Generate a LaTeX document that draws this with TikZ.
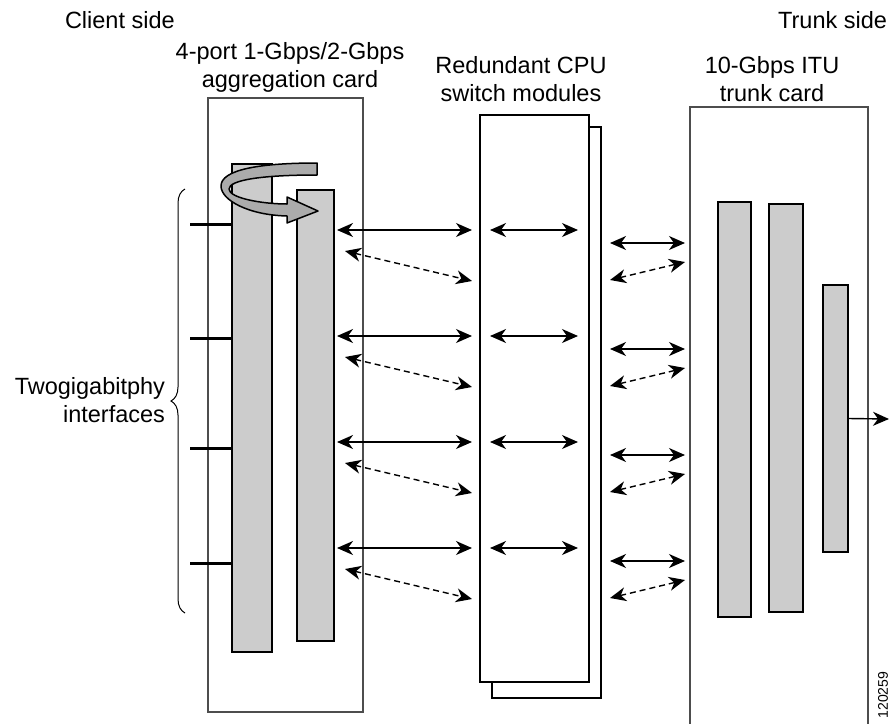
\documentclass[tikz,border=0pt]{standalone}
\usepackage{fontspec}
\setmainfont{Liberation Sans}
\usetikzlibrary{arrows.meta,decorations.pathreplacing}
\definecolor{cardline}{HTML}{4D4D4D}
\definecolor{barfill}{HTML}{CCCCCC}
\definecolor{turnfill}{HTML}{ABABAB}

\begin{document}
\begin{tikzpicture}[
    x=1pt, y=-1pt,
    every node/.style={inner sep=0pt, outer sep=0pt},
    lbl/.style={font=\fontsize{23.5}{28}\selectfont, align=center, anchor=north},
    card/.style={draw=cardline, line width=1.6pt, fill=white, anchor=north west},
    cpu/.style={draw=black, line width=1.5pt, fill=white, anchor=north west},
    bar/.style={draw=black, line width=2.6pt, fill=barfill, anchor=north west},
    port/.style={line width=3pt},
    turn/.style={draw=black, line width=1.5pt, fill=turnfill, line join=round},
    tip/.style={-{Stealth[length=16pt,width=14pt,inset=5pt]}, line width=1.4pt},
    link/.style={{Stealth[length=16pt,width=14pt,inset=5pt]}-{Stealth[length=16pt,width=14pt,inset=5pt]}, line width=1.4pt},
    dlink/.style={link, dash pattern=on 6pt off 4pt}
  ]
  \useasboundingbox (0,0) rectangle (891,723);

  % headings
  \node[lbl, anchor=north west] (client) at (65,11) {Client side};
  \node[lbl, anchor=north east] (trunkside) at (887,11) {Trunk side};
  \node[lbl] (agghead) at (290,42) {4-port 1-Gbps/2-Gbps\\aggregation card};
  \node[lbl] (cpuhead) at (521,56) {Redundant CPU\\switch modules};
  \node[lbl] (ituhead) at (772,56) {10-Gbps ITU\\trunk card};

  % cards
  \node[card, minimum width=155pt, minimum height=614pt] (agg) at (208,98) {};
  \node[cpu, minimum width=109pt, minimum height=571pt] (cpub) at (492,127) {};
  \node[cpu, minimum width=109pt, minimum height=567pt] (cpuf) at (480,115) {};
  \node[card, minimum width=178pt, minimum height=630pt] (itu) at (690,107) {};

  % bars
  \node[bar, minimum width=40pt, minimum height=488pt] (agga) at (232,164) {};
  \node[bar, minimum width=37pt, minimum height=451pt] (aggb) at (297,190) {};
  \node[bar, minimum width=33pt, minimum height=415pt] (itua) at (718,202) {};
  \node[bar, minimum width=34pt, minimum height=408pt] (itub) at (769,204) {};
  \node[bar, minimum width=25pt, minimum height=267pt] (ituc) at (823,285) {};

  % interfaces
  \foreach \y [count=\i] in {224,338,448,563} {
    \coordinate (p\i) at (190,\y);
    \draw[port] (p\i) -- (p\i -| agga.west);
  }
  \draw[decorate, decoration={brace, amplitude=14pt}, line width=1pt] (185,613) -- (185,189);
  \node[lbl, align=right, anchor=east] (ifaces) at (165,400) {Twogigabitphy\\interfaces};

  % turn-around arrow
  \draw[turn] (317,163) -- (317,175) .. controls (262,175) and (229,180) .. (229,189)
    .. controls (229,198) and (262,204) .. (287,204) -- (287,197) -- (318,211) -- (287,223)
    -- (287,216) .. controls (248,215) and (221,200) .. (221,186)
    .. controls (221,170) and (258,163) .. (317,163) -- cycle;

  % links
  \foreach \s [count=\i] in {230,336,442,548} {
    \coordinate (la\i) at (337,\s);      \coordinate (lb\i) at (472,\s);
    \coordinate (da\i) at (345,\s+21);   \coordinate (db\i) at (472,\s+51);
    \coordinate (ma\i) at (490,\s);      \coordinate (mb\i) at (578,\s);
    \coordinate (ra\i) at (610,\s+13);   \coordinate (rb\i) at (685,\s+13);
    \coordinate (ea\i) at (610,\s+50);   \coordinate (eb\i) at (685,\s+32);
    \draw[link] (la\i) -- (lb\i);
    \draw[dlink] (da\i) -- (db\i);
    \draw[link] (ma\i) -- (mb\i);
    \draw[link] (ra\i) -- (rb\i);
    \draw[dlink] (ea\i) -- (eb\i);
  }

  \coordinate (out) at (889,419);
  \draw[tip] (ituc.east) -- (out);

  \node[font=\fontsize{14}{14}\selectfont, rotate=90] (figid) at (883,695) {120259};
\end{tikzpicture}
\end{document}
